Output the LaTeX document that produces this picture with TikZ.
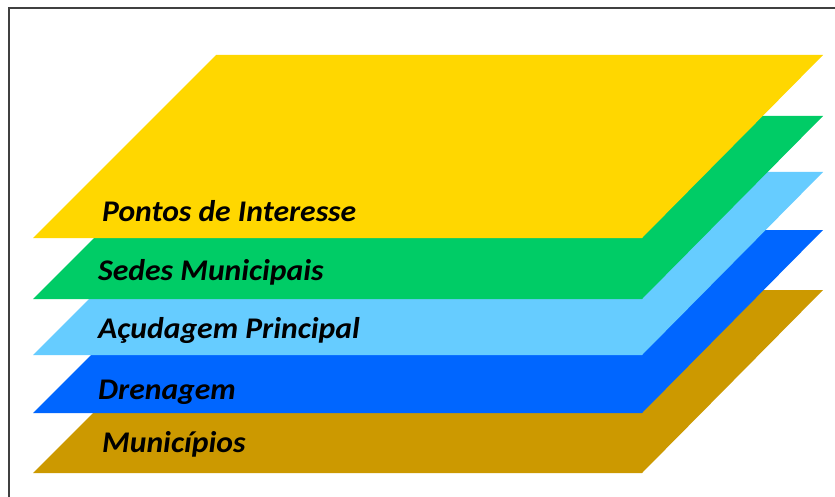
\documentclass[tikz,border=0pt]{standalone}
\usepackage{fontspec}
\setmainfont{Carlito}
\definecolor{cYellow}{HTML}{FFD700}
\definecolor{cGreen}{HTML}{00CC66}
\definecolor{cLightBlue}{HTML}{66CCFF}
\definecolor{cBlue}{HTML}{0066FF}
\definecolor{cBrown}{HTML}{CC9900}
\definecolor{cFrame}{HTML}{404040}
\tikzset{
  layerlabel/.style={anchor=base west, inner sep=0pt, xscale=1.055, font=\fontsize{30}{34}\selectfont\bfseries\itshape, text=black},
}
\newcommand{\layer}[2]{%
  \fill[#1] (33,#2) -- (642,#2) -- (823,#2-183) -- (216,#2-183) -- cycle;}
\begin{document}
\begin{tikzpicture}[x=1pt,y=-1pt]
\useasboundingbox (0,0) rectangle (835,497);
\clip (0,0) rectangle (835,497);
\fill[white] (0,0) rectangle (835,497);
\draw[cFrame, line width=2.5pt] (9,8) rectangle (900,600);
\layer{cBrown}{473}
\layer{cBlue}{413}
\layer{cLightBlue}{355}
\layer{cGreen}{299}
\layer{cYellow}{238}
\node[layerlabel] (pontos) at (102,222) {Pontos de Interesse};
\node[layerlabel] (sedes) at (98,280) {Sedes Municipais};
\node[layerlabel] (acud) at (98,338) {Açudagem Principal};
\node[layerlabel] (dren) at (98,399) {Drenagem};
\node[layerlabel] (mun) at (102,452) {Municípios};
\end{tikzpicture}
\end{document}
